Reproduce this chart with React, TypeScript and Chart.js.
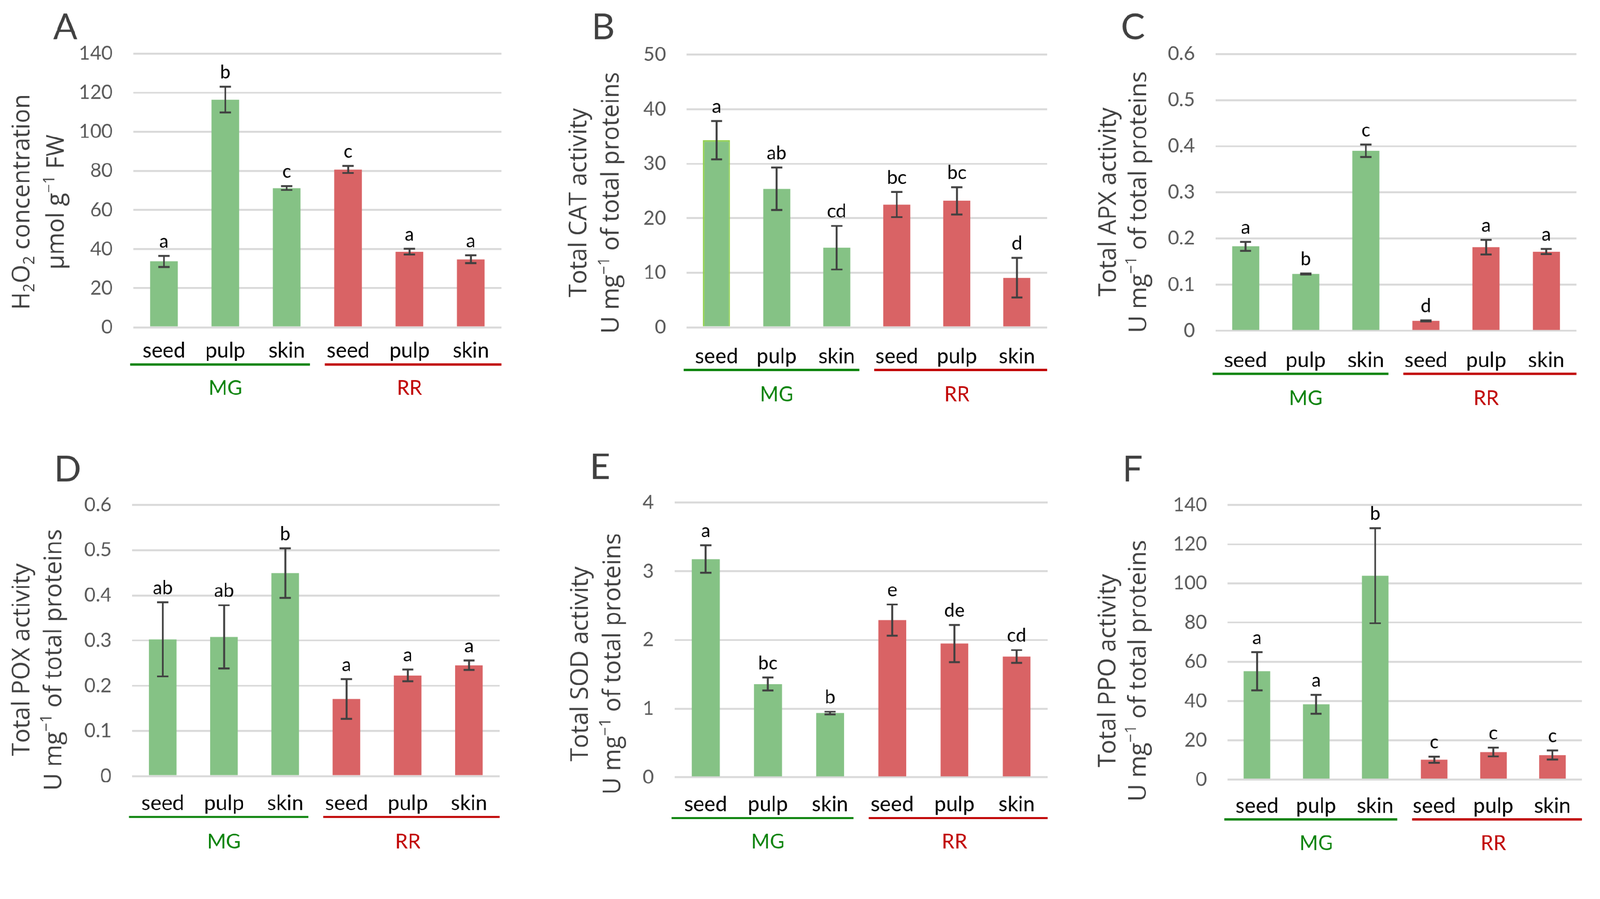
import React, { useEffect, useRef } from 'react';
import { Chart, registerables } from 'chart.js';

Chart.register(...registerables);
Chart.defaults.font.family = 'Lato';

// ---------- data ----------
const categories = ['seed', 'pulp', 'skin', 'seed', 'pulp', 'skin'];
const groupNames = ['MG', 'RR'];
const panelLetters = ['A', 'B', 'C', 'D', 'E', 'F'];

const h2o2Values = [33.7, 116.4, 71.2, 80.7, 38.7, 34.8];
const h2o2Errors = [2.8, 6.6, 1.0, 1.8, 1.5, 2.0];
const h2o2Letters = ['a', 'b', 'c', 'c', 'a', 'a'];

const catValues = [34.3, 25.4, 14.6, 22.5, 23.2, 9.1];
const catErrors = [3.5, 3.9, 4.0, 2.3, 2.5, 3.65];
const catLetters = ['a', 'ab', 'cd', 'bc', 'bc', 'd'];

const apxValues = [0.183, 0.123, 0.39, 0.0216, 0.181, 0.1716];
const apxErrors = [0.0097, 0.001, 0.0137, 0.001, 0.016, 0.0057];
const apxLetters = ['a', 'b', 'c', 'd', 'a', 'a'];

const poxValues = [0.3027, 0.308, 0.449, 0.1708, 0.2229, 0.2453];
const poxErrors = [0.082, 0.07, 0.055, 0.0437, 0.0128, 0.0104];
const poxLetters = ['ab', 'ab', 'b', 'a', 'a', 'a'];

const sodValues = [3.178, 1.359, 0.935, 2.29, 1.947, 1.76];
const sodErrors = [0.2, 0.093, 0.02, 0.228, 0.27, 0.093];
const sodLetters = ['a', 'bc', 'b', 'e', 'de', 'cd'];

const ppoValues = [55.2, 38.3, 103.9, 10.1, 14.0, 12.5];
const ppoErrors = [9.7, 4.8, 24.2, 1.5, 2.2, 2.3];
const ppoLetters = ['a', 'a', 'b', 'c', 'c', 'c'];

const yMaxes = [140, 50, 0.6, 0.6, 4, 140];
const ySteps = [20, 10, 0.1, 0.1, 1, 20];

type Seg = { t: string; s?: 'sub' | 'sup' };
const proteinLine: Seg[] = [{ t: 'U mg' }, { t: '−1', s: 'sup' }, { t: ' of total proteins' }];
const yTitles: Seg[][][] = [
  [[{ t: 'H' }, { t: '2', s: 'sub' }, { t: 'O' }, { t: '2', s: 'sub' }, { t: ' concentration' }],
   [{ t: 'µmol g' }, { t: '−1', s: 'sup' }, { t: ' FW' }]],
  [[{ t: 'Total CAT activity' }], proteinLine],
  [[{ t: 'Total APX activity' }], proteinLine],
  [[{ t: 'Total POX activity' }], proteinLine],
  [[{ t: 'Total SOD activity' }], proteinLine],
  [[{ t: 'Total PPO activity' }], proteinLine],
];

const seriesValues = [h2o2Values, catValues, apxValues, poxValues, sodValues, ppoValues];
const seriesErrors = [h2o2Errors, catErrors, apxErrors, poxErrors, sodErrors, ppoErrors];
const seriesLetters = [h2o2Letters, catLetters, apxLetters, poxLetters, sodLetters, ppoLetters];

// ---------- layout (page coordinates) ----------
const PAGE_W = 4277;
const PAGE_H = 2302;
const layouts = [
  { rx: 0, ry: 0, rw: 1426, rh: 1151, l: 356, r: 1340, t: 143, b: 875, t1: 300, t2: 208, tcy: 540, lx: 142, lb: 104, labelDy: 62, lineDy: 99, groupDy: 163 },
  { rx: 1426, ry: 0, rw: 1426, rh: 1151, l: 1835, r: 2798, t: 146, b: 875, t1: 291, t2: 204, tcy: 542, lx: 1581, lb: 104, labelDy: 78, lineDy: 114, groupDy: 180 },
  { rx: 2852, ry: 0, rw: 1425, rh: 1151, l: 3249, r: 4213, t: 144, b: 884, t1: 289, t2: 208, tcy: 540, lx: 2996, lb: 104, labelDy: 79, lineDy: 115, groupDy: 181 },
  { rx: 0, ry: 1151, rw: 1426, rh: 1151, l: 353, r: 1335, t: 1350, b: 2075, t1: 297, t2: 212, tcy: 1764, lx: 144, lb: 1287, labelDy: 73, lineDy: 109, groupDy: 176 },
  { rx: 1426, ry: 1151, rw: 1426, rh: 1151, l: 1803, r: 2800, t: 1344, b: 2078, t1: 255, t2: 168, tcy: 1775, lx: 1576, lb: 1280, labelDy: 73, lineDy: 109, groupDy: 173 },
  { rx: 2852, ry: 1151, rw: 1425, rh: 1151, l: 3281, r: 4228, t: 1350, b: 2084, t1: 322, t2: 241, tcy: 1793, lx: 3000, lb: 1287, labelDy: 71, lineDy: 107, groupDy: 171 },
];

const GREEN_BAR = 'rgb(133,194,133)';
const RED_BAR = 'rgb(217,99,101)';
const GREEN_LINE = '#0a820a';
const RED_LINE = '#c00000';
const TITLE_FONT = '"Open Sans"';

function drawRich(ctx: CanvasRenderingContext2D, segs: Seg[], cx: number, baseline: number, size: number, family: string, color: string) {
  const small = size * 0.65;
  const widths = segs.map((sg) => {
    ctx.font = `${sg.s ? small : size}px ${family}`;
    return ctx.measureText(sg.t).width;
  });
  const total = widths.reduce((a, b) => a + b, 0);
  let x = cx - total / 2;
  ctx.fillStyle = color;
  ctx.textAlign = 'left';
  ctx.textBaseline = 'alphabetic';
  segs.forEach((sg, i) => {
    ctx.font = `${sg.s ? small : size}px ${family}`;
    const dy = sg.s === 'sup' ? -size * 0.4 : sg.s === 'sub' ? size * 0.2 : 0;
    ctx.fillText(sg.t, x, baseline + dy);
    x += widths[i];
  });
}

const decorPlugin = {
  id: 'decor',
  afterDatasetsDraw(chart: any, _args: any, opts: any) {
    const { ctx, chartArea, scales } = chart;
    const xs = scales.x;
    const ys = scales.y;
    const values: number[] = chart.data.datasets[0].data;
    const L = opts.layout;
    const ox = L.rx;
    const oy = L.ry;
    ctx.save();
    // error bars + significance letters
    values.forEach((v, i) => {
      const cx = xs.getPixelForValue(i);
      const e = opts.errors[i];
      const yt = ys.getPixelForValue(v + e);
      const yb = ys.getPixelForValue(v - e);
      ctx.strokeStyle = '#404040';
      ctx.lineWidth = 5;
      ctx.lineCap = 'butt';
      ctx.beginPath();
      ctx.moveTo(cx, yt);
      ctx.lineTo(cx, yb);
      ctx.moveTo(cx - 15, yt);
      ctx.lineTo(cx + 15, yt);
      ctx.moveTo(cx - 15, yb);
      ctx.lineTo(cx + 15, yb);
      ctx.stroke();
      ctx.fillStyle = '#000';
      ctx.font = '50px Lato';
      ctx.textAlign = 'center';
      ctx.textBaseline = 'alphabetic';
      ctx.fillText(opts.letters[i], cx, yt - 22);
    });
    // category labels
    ctx.font = '56px Lato';
    ctx.fillStyle = '#000';
    ctx.textAlign = 'center';
    ctx.textBaseline = 'middle';
    categories.forEach((c, i) => {
      ctx.fillText(c, xs.getPixelForValue(i), chartArea.bottom + L.labelDy);
    });
    // group underlines
    const mid = (chartArea.left + chartArea.right) / 2;
    const ly = chartArea.bottom + L.lineDy;
    ctx.lineWidth = 6;
    ctx.strokeStyle = GREEN_LINE;
    ctx.beginPath();
    ctx.moveTo(chartArea.left - 8, ly);
    ctx.lineTo(mid - 20, ly);
    ctx.stroke();
    ctx.strokeStyle = RED_LINE;
    ctx.beginPath();
    ctx.moveTo(mid + 20, ly);
    ctx.lineTo(chartArea.right, ly);
    ctx.stroke();
    // group names
    ctx.font = '54px Lato';
    ctx.textBaseline = 'middle';
    ctx.fillStyle = GREEN_LINE;
    ctx.fillText(groupNames[0], xs.getPixelForValue(1), chartArea.bottom + L.groupDy);
    ctx.fillStyle = RED_LINE;
    ctx.fillText(groupNames[1], xs.getPixelForValue(4), chartArea.bottom + L.groupDy);
    // panel letter
    ctx.font = '96px Lato';
    ctx.fillStyle = '#404040';
    ctx.textAlign = 'left';
    ctx.textBaseline = 'alphabetic';
    ctx.fillText(opts.panel, L.lx - ox, L.lb - oy);
    // y titles
    const size = 64;
    const lines: Seg[][] = opts.title;
    const dists = [L.t1, L.t2];
    lines.forEach((segs, k) => {
      ctx.save();
      ctx.translate(chartArea.left - dists[k], L.tcy - oy);
      ctx.rotate(-Math.PI / 2);
      drawRich(ctx, segs, 0, size * 0.355, size, TITLE_FONT, '#404040');
      ctx.restore();
    });
    ctx.restore();
  },
};

function getScale(): number {
  if (typeof window === 'undefined') return 1;
  const k = window.innerWidth / PAGE_W;
  return k > 0 ? k : 1;
}

function Panel({ idx, k }: { idx: number; k: number }) {
  const ref = useRef<HTMLCanvasElement | null>(null);
  const L = layouts[idx];
  useEffect(() => {
    const canvas = ref.current;
    if (!canvas) return;
    const values = seriesValues[idx];
    const colors = values.map((_, i) => (i < 3 ? GREEN_BAR : RED_BAR));
    const borderColors = values.map((_, i) => (idx === 1 && i === 0 ? '#92d050' : 'rgba(0,0,0,0)'));
    const borderWidths = values.map((_, i) => (idx === 1 && i === 0 ? 4 : 0));
    const step = ySteps[idx];
    const chart = new Chart(canvas, {
      type: 'bar',
      data: {
        labels: categories,
        datasets: [
          {
            data: values,
            backgroundColor: colors,
            borderColor: borderColors,
            borderWidth: borderWidths,
            barPercentage: 0.9,
            categoryPercentage: 0.5,
          },
        ],
      },
      options: {
        animation: false,
        responsive: false,
        devicePixelRatio: (window.devicePixelRatio || 1) * k,
        layout: {
          padding: {
            left: 0,
            top: L.t - L.ry,
            right: L.rx + L.rw - L.r,
            bottom: L.ry + L.rh - L.b,
          },
        },
        plugins: {
          legend: { display: false },
          tooltip: { enabled: false },
          decor: {
            layout: L,
            errors: seriesErrors[idx],
            letters: seriesLetters[idx],
            panel: panelLetters[idx],
            title: yTitles[idx],
          },
        } as any,
        scales: {
          x: { display: false },
          y: {
            min: 0,
            max: yMaxes[idx],
            ticks: {
              stepSize: step,
              padding: 55,
              color: '#595959',
              font: { family: 'Lato', size: 52 },
              callback: (v: any) => (step < 1 ? Number(v).toFixed(1).replace(/^0\.0$/, '0') : String(v)),
            },
            grid: { color: '#d9d9d9', lineWidth: 5, drawTicks: false },
            border: { display: false },
            afterFit: (s: any) => {
              s.width = L.l - L.rx;
            },
          },
        },
      },
      plugins: [decorPlugin],
    });
    return () => chart.destroy();
  }, [idx, k]);
  return (
    <canvas
      ref={ref}
      width={L.rw}
      height={L.rh}
      style={{ position: 'absolute', left: L.rx, top: L.ry, width: L.rw, height: L.rh }}
    />
  );
}

export default function App() {
  const k = getScale();
  return (
    <div
      style={{
        position: 'absolute',
        left: 0,
        top: 0,
        width: PAGE_W,
        height: PAGE_H,
        background: '#fff',
        overflow: 'hidden',
        transform: `scale(${k})`,
        transformOrigin: '0 0',
      }}
    >
      {layouts.map((_, i) => (
        <Panel key={i} idx={i} k={k} />
      ))}
    </div>
  );
}
